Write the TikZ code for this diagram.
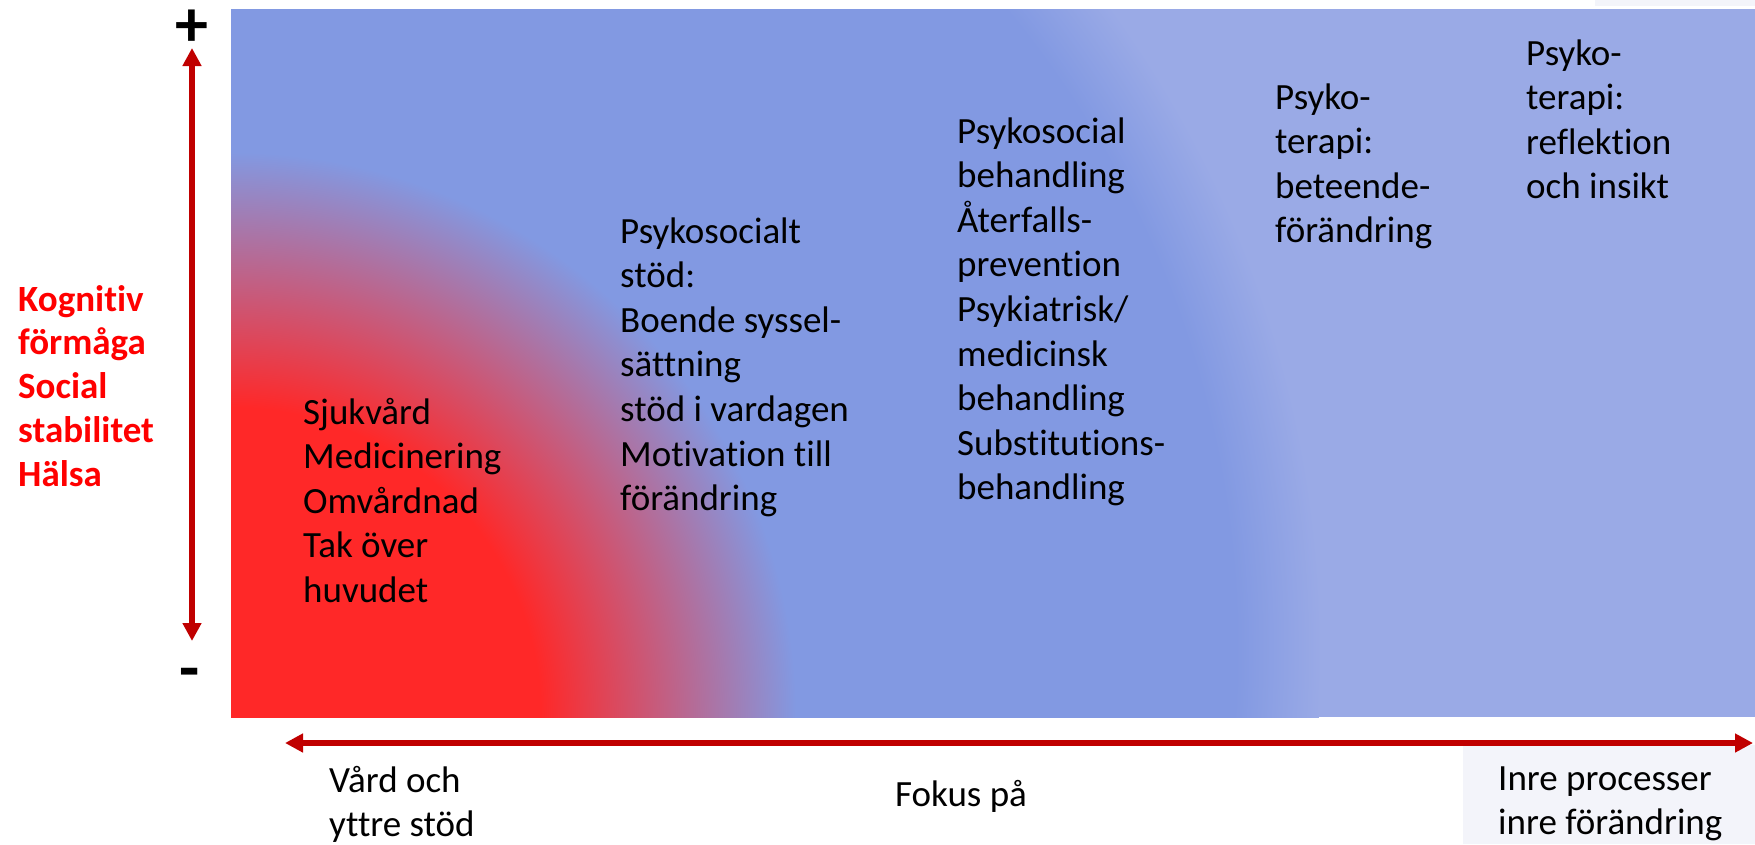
\documentclass[tikz,border=0pt]{standalone}
\usepackage{fontspec}
\setmainfont[Ligatures={NoCommon}]{Carlito}
\usetikzlibrary{arrows.meta}
\definecolor{rd}{HTML}{FF2828}
\definecolor{bdark}{HTML}{8299E2}
\definecolor{blight}{HTML}{9AAAE6}
\definecolor{arrowred}{HTML}{C00000}
\definecolor{pale}{HTML}{F3F4FA}
\pgfdeclareradialshading{blueglow}{\pgfpoint{0bp}{0bp}}{color(0bp)=(bdark); color(23.05bp)=(bdark); color(25bp)=(blight); color(50bp)=(blight)}
\pgfdeclareradialshading{redglow}{\pgfpoint{0bp}{0bp}}{color(0bp)=(rd); color(13.7bp)=(rd); color(25bp)=(bdark); color(50bp)=(bdark)}
\begin{document}
\begin{tikzpicture}[x=1pt,y=-1pt,
  body/.style={anchor=base west, inner sep=0pt, font=\fontsize{37}{44.6}\selectfont},
  redlabel/.style={anchor=base west, inner sep=0pt, text=red, font=\bfseries\fontsize{37}{43.8}\selectfont},
  sign/.style={anchor=base, inner sep=0pt, font=\bfseries\fontsize{66}{72}\selectfont},
  axis/.style={draw=arrowred, line width=5.5pt, {Triangle[width=18pt,length=18pt]}-{Triangle[width=18pt,length=18pt]}}
]
\useasboundingbox (0,0) rectangle (1755,844);
\fill[pale] (1595,0) rectangle (1755,6);
\fill[pale] (1463,745) rectangle (1755,844);
\begin{scope}
  \clip (231,9) rectangle (1755,717);
  \fill[blight] (231,9) rectangle (1755,717);
  \shade[shading=blueglow] (231,650) circle (1090);
  \shade[shading=redglow] (231,717) circle (565);
\end{scope}
% axes
\coordinate (vt) at (192,48);
\coordinate (vb) at (192,641);
\draw[axis] (vt) -- (vb);
\coordinate (hl) at (285,743);
\coordinate (hr) at (1753,743);
\draw[axis] (hl) -- (hr);
\node[sign] (plus) at (192,46) {+};
\node[sign] (minus) at (190,690) {-};
% left label
\node[redlabel] (lbl) at (18,311) {\begin{tabular}[t]{@{}l@{}}Kognitiv\\förmåga\\Social\\stabilitet\\Hälsa\end{tabular}};
% columns
\node[body] (care) at (303,424) {\begin{tabular}[t]{@{}l@{}}Sjukvård\\Medicinering\\Omvårdnad\\Tak över\\huvudet\end{tabular}};
\node[body] (stod) at (620,243) {\begin{tabular}[t]{@{}l@{}}Psykosocialt\\stöd:\\Boende syssel-\\sättning\\stöd i vardagen\\Motivation till\\förändring\end{tabular}};
\node[body] (beh) at (957,143) {\begin{tabular}[t]{@{}l@{}}Psykosocial\\behandling\\Återfalls-\\prevention\\Psykiatrisk/\\medicinsk\\behandling\\Substitutions-\\behandling\end{tabular}};
\node[body] (bet) at (1275,109) {\begin{tabular}[t]{@{}l@{}}Psyko-\\terapi:\\beteende-\\förändring\end{tabular}};
\node[body] (refl) at (1526,65) {\begin{tabular}[t]{@{}l@{}}Psyko-\\terapi:\\reflektion\\och insikt\end{tabular}};
% bottom labels
\node[body] (yttre) at (329,792) {\begin{tabular}[t]{@{}l@{}}Vård och\\yttre stöd\end{tabular}};
\node[body] (fokus) at (895,806) {Fokus på};
\node[body] (inre) at (1498,790) {\begin{tabular}[t]{@{}l@{}}Inre processer\\inre förändring\end{tabular}};
\end{tikzpicture}
\end{document}
